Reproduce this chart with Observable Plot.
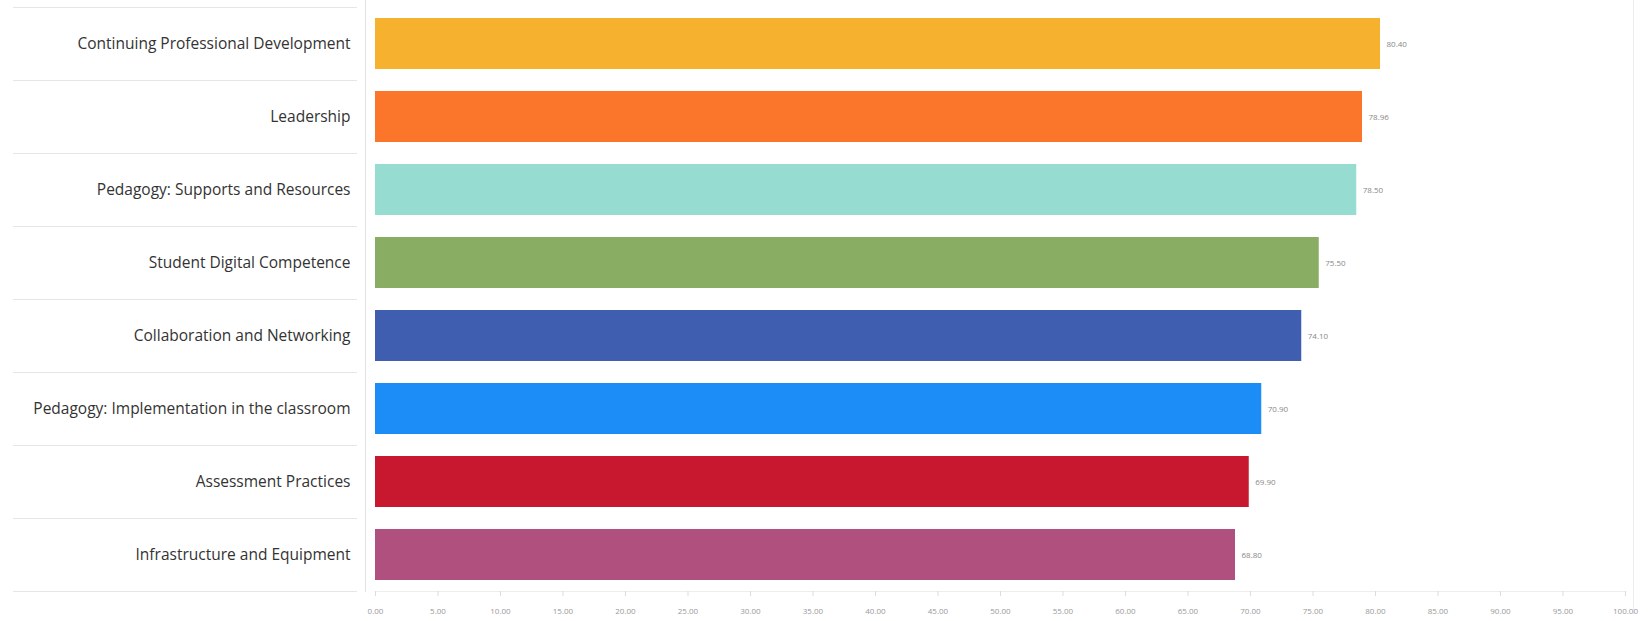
<!DOCTYPE html>
<html><head><meta charset="utf-8">
<script src="https://cdn.jsdelivr.net/npm/d3@7"></script>
<script src="https://cdn.jsdelivr.net/npm/@observablehq/plot@0.6"></script>
<style>body{margin:0;background:#fff;overflow:hidden}</style>
</head><body><div id="chart"></div>
<script>
const categories = [
  "Continuing Professional Development",
  "Leadership",
  "Pedagogy: Supports and Resources",
  "Student Digital Competence",
  "Collaboration and Networking",
  "Pedagogy: Implementation in the classroom",
  "Assessment Practices",
  "Infrastructure and Equipment"
];
const values = [80.40, 78.96, 78.50, 75.50, 74.10, 70.90, 69.90, 68.80];
const colors = ["#F6B22E", "#FB752B", "#97DCD0", "#89AE63", "#405EB0", "#1C8CF7", "#C8182F", "#B0507F"];
const xTicks = [0, 5, 10, 15, 20, 25, 30, 35, 40, 45, 50, 55, 60, 65, 70, 75, 80, 85, 90, 95, 100];

const rows = categories.map((c, i) => ({category: c, value: values[i]}));

const W = 1652, H = 621, mt = 8, mb = 30, pi = 0.3, po = 0.14;
const step = (H - mt - mb) / (categories.length - pi + 2 * po);

const chart = Plot.plot({
  width: W, height: H,
  marginLeft: 375, marginRight: 27, marginTop: mt, marginBottom: mb,
  style: {fontFamily: "Open Sans", background: "white"},
  x: {domain: [0, 100], label: null},
  y: {domain: categories, paddingInner: pi, paddingOuter: po, label: null},
  color: {domain: categories, range: colors},
  marks: [
    Plot.frame({anchor: "left", dx: -10, insetTop: -8, stroke: "#e2e2e2"}),
    Plot.frame({anchor: "right", dx: 8, insetTop: -8, insetBottom: -22, stroke: "#ececec"}),
    Plot.frame({anchor: "bottom", stroke: "#eeeeee"}),
    Plot.axisY(categories, {text: null, tickSize: 344, dx: -18, dy: step / 2, stroke: "#e6e6e6", label: null}),
    Plot.axisY(categories.slice(0, 1), {text: null, tickSize: 344, dx: -18, dy: -step / 2, stroke: "#e6e6e6", label: null}),
    Plot.axisY({tickSize: 0, tickPadding: 25, fontSize: 15.5, fill: "#333", label: null}),
    Plot.axisX(xTicks, {tickSize: 5, tickPadding: 12, fontSize: 8, fill: "#999", stroke: "#dddddd",
      tickFormat: d => d.toFixed(2), label: null}),
    Plot.barX(rows, {x: "value", y: "category", fill: "category"}),
    Plot.text(rows, {x: "value", y: "category", text: d => d.value.toFixed(2),
      textAnchor: "start", dx: 6, fontSize: 8, fill: "#888"})
  ]
});
document.getElementById("chart").append(chart);
</script>
</body></html>
